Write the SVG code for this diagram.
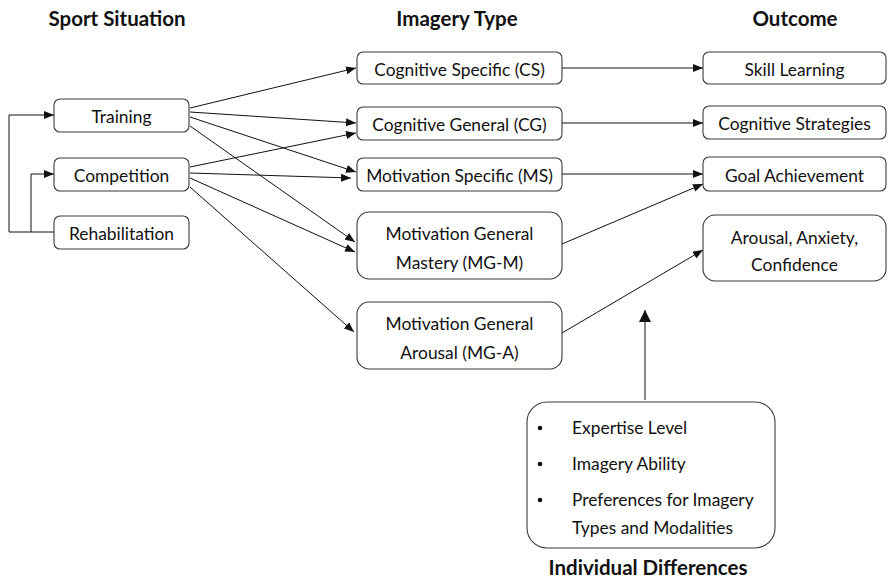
<svg xmlns="http://www.w3.org/2000/svg" width="888" height="585" viewBox="0 0 888 585">
<style>
.box{fill:#fff;stroke:#3a3a3a;stroke-width:1.1}
.t{font-family:Lato,"Open Sans","Liberation Sans",sans-serif;font-size:17.4px;fill:#111;text-anchor:middle;dominant-baseline:central}
.tl{font-family:Lato,"Open Sans","Liberation Sans",sans-serif;font-size:17.4px;fill:#111;dominant-baseline:central}
.h{font-family:Lato,"Open Sans","Liberation Sans",sans-serif;font-size:20.5px;font-weight:bold;fill:#111;text-anchor:middle;dominant-baseline:central}
.c{fill:none;stroke:#111;stroke-width:1}
</style>
<defs>
<marker id="ah" markerUnits="userSpaceOnUse" markerWidth="10" markerHeight="8" refX="10" refY="4" orient="auto"><path d="M0,0 L10,4 L0,8 Z" fill="#111"/></marker>
<marker id="ahb" markerUnits="userSpaceOnUse" markerWidth="12" markerHeight="12" refX="12" refY="6" orient="auto"><path d="M0,0 L12,6 L0,12 Z" fill="#111"/></marker>
</defs>
<rect width="888" height="585" fill="#fff"/>
<g id="headers">
<text class="h" x="117" y="18">Sport Situation</text>
<text class="h" x="457" y="18">Imagery Type</text>
<text class="h" x="795" y="18">Outcome</text>
<text class="h" x="648" y="567">Individual Differences</text>
</g>
<g id="connectors">
<path class="c" marker-end="url(#ah)" d="M190,108 L356,68"/>
<path class="c" marker-end="url(#ah)" d="M190,112 L356,123"/>
<path class="c" marker-end="url(#ah)" d="M190,117 L356,172"/>
<path class="c" marker-end="url(#ah)" d="M190,126 L355,242"/>
<path class="c" marker-end="url(#ah)" d="M190,167 L356,133"/>
<path class="c" marker-end="url(#ah)" d="M190,173 L351,178"/>
<path class="c" marker-end="url(#ah)" d="M190,178 L355,252"/>
<path class="c" marker-end="url(#ah)" d="M190,187 L354,332"/>
<path class="c" marker-end="url(#ah)" d="M562,68 L703,68"/>
<path class="c" marker-end="url(#ah)" d="M562,123 L703,123"/>
<path class="c" marker-end="url(#ah)" d="M562,174 L703,174"/>
<path class="c" marker-end="url(#ah)" d="M562,244 L703,184"/>
<path class="c" marker-end="url(#ah)" d="M562,333 L703,250"/>
<path class="c" marker-end="url(#ah)" d="M54,232 H9 V115 H54"/>
<path class="c" marker-end="url(#ah)" d="M31,232 V174 H54"/>
<path class="c" stroke-width="3" marker-end="url(#ahb)" d="M645,400 V310"/>
</g>
<g id="training"><rect class="box" x="54" y="99" width="135" height="33" rx="6"/><text class="t" x="121.5" y="116">Training</text></g>
<g id="competition"><rect class="box" x="54" y="158" width="135" height="33" rx="6"/><text class="t" x="121.5" y="175">Competition</text></g>
<g id="rehabilitation"><rect class="box" x="54" y="216" width="135" height="33" rx="6"/><text class="t" x="121.5" y="233">Rehabilitation</text></g>
<g id="cs"><rect class="box" x="357" y="52" width="205" height="32" rx="6"/><text class="t" x="459.5" y="69">Cognitive Specific (CS)</text></g>
<g id="cg"><rect class="box" x="357" y="107" width="205" height="33" rx="6"/><text class="t" x="459.5" y="124">Cognitive General (CG)</text></g>
<g id="ms"><rect class="box" x="357" y="158" width="205" height="33" rx="6"/><text class="t" x="459.5" y="175">Motivation Specific (MS)</text></g>
<g id="mgm"><rect class="box" x="357" y="212" width="205" height="67" rx="12"/><text class="t" x="459.5" y="233">Motivation General</text><text class="t" x="459.5" y="262">Mastery (MG-M)</text></g>
<g id="mga"><rect class="box" x="357" y="302" width="205" height="67" rx="12"/><text class="t" x="459.5" y="323">Motivation General</text><text class="t" x="459.5" y="352">Arousal (MG-A)</text></g>
<g id="skill"><rect class="box" x="703" y="52" width="183" height="32" rx="6"/><text class="t" x="794.5" y="69">Skill Learning</text></g>
<g id="strategies"><rect class="box" x="703" y="106" width="183" height="33" rx="6"/><text class="t" x="794.5" y="123">Cognitive Strategies</text></g>
<g id="goal"><rect class="box" x="703" y="157" width="183" height="34" rx="6"/><text class="t" x="794.5" y="175">Goal Achievement</text></g>
<g id="arousal"><rect class="box" x="703" y="215" width="183" height="66" rx="12"/><text class="t" x="794.5" y="237">Arousal, Anxiety,</text><text class="t" x="794.5" y="264">Confidence</text></g>
<g id="individual">
<rect class="box" x="527" y="402" width="248" height="146" rx="20"/>
<circle cx="540" cy="428" r="2.3" fill="#111"/>
<circle cx="540" cy="464" r="2.3" fill="#111"/>
<circle cx="540" cy="500" r="2.3" fill="#111"/>
<text class="tl" x="572" y="427">Expertise Level</text>
<text class="tl" x="572" y="463">Imagery Ability</text>
<text class="tl" x="572" y="499">Preferences for Imagery</text>
<text class="tl" x="572" y="527">Types and Modalities</text>
</g>
</svg>
